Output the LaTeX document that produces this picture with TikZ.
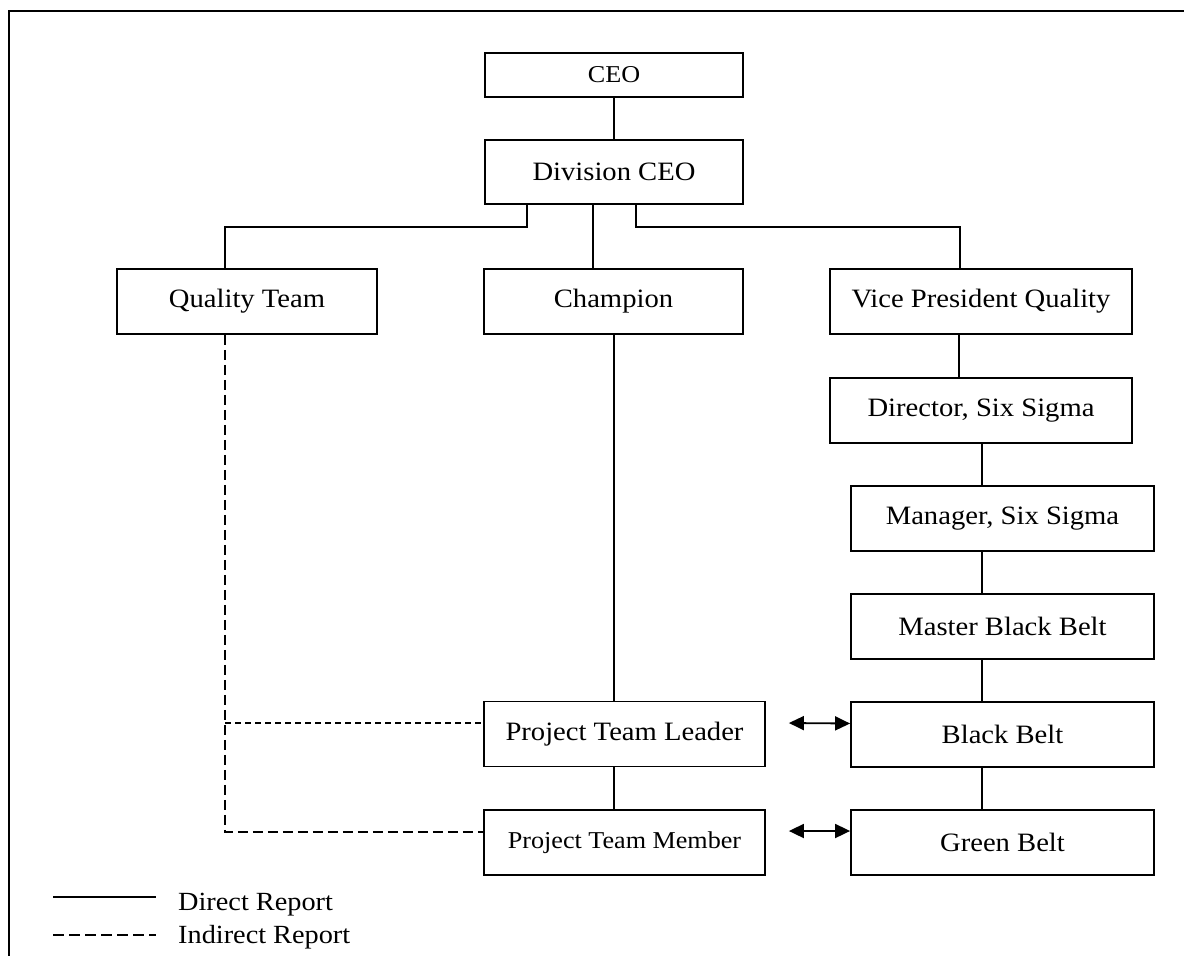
\documentclass[tikz,border=0pt]{standalone}
\usepackage{fontspec}
\setmainfont{Liberation Serif}[FakeStretch=1.08]
\usetikzlibrary{arrows.meta}
\begin{document}
\begin{tikzpicture}[x=1pt,y=-1pt,
  box/.style={draw, line width=1.8pt, inner sep=0pt, minimum height=65pt,
    font=\fontsize{26.5}{30}\selectfont},
  smallbox/.style={box, font=\fontsize{24.2}{28}\selectfont},
  direct/.style={line width=1.6pt},
  indirect/.style={line width=1.5pt, dash pattern=on 10pt off 5pt},
  indirectfine/.style={line width=1.5pt, dash pattern=on 6pt off 4pt},
  biarrow/.style={line width=1.8pt, {Triangle[length=15pt,width=14pt]}-{Triangle[length=15pt,width=14pt]}},
  legendtext/.style={anchor=base west, inner sep=0pt, font=\fontsize{26.2}{30}\selectfont}]
\useasboundingbox (0,0) rectangle (1184,956);

% page frame
\draw[line width=2.2pt] (9,956) -- (9,11) -- (1184,11);

% boxes
\node[smallbox, minimum width=258pt, minimum height=44pt] (ceo) at (614,75) {CEO};
\node[box, minimum width=258pt, minimum height=64pt] (div) at (614,172) {Division CEO};
\node[box, minimum width=260pt] (qt) at (247,301.5) {Quality Team};
\node[box, minimum width=259pt] (champ) at (613.5,301.5) {Champion};
\node[box, minimum width=302pt] (vp) at (981,301.5) {Vice President Quality};
\node[box, minimum width=302pt] (dir) at (981,410.5) {Director, Six Sigma};
\node[box, minimum width=303pt] (mgr) at (1002.5,518.5) {Manager, Six Sigma};
\node[box, minimum width=303pt] (mbb) at (1002.5,626.5) {Master Black Belt};
\node[box, minimum width=303pt] (bb) at (1002.5,734.5) {Black Belt};
\node[box, minimum width=303pt] (gb) at (1002.5,842.5) {Green Belt};
\node[box, minimum width=281pt] (ptl) at (624.5,734) {Project Team Leader};
\node[smallbox, minimum width=281pt] (ptm) at (624.5,842.5) {Project Team Member};

% direct reports
\draw[direct] (ceo) -- (div);
\draw[direct] ([xshift=-87pt]div.south) -- ++(0,22) -| ([xshift=-22pt]qt.north);
\coordinate (dmid) at ([xshift=-21pt]div.south);
\draw[direct] (dmid) -- (dmid |- champ.north);
\draw[direct] ([xshift=22pt]div.south) -- ++(0,22) -| ([xshift=-21pt]vp.north);
\coordinate (vpout) at ([xshift=-22pt]vp.south);
\draw[direct] (vpout) -- (vpout |- dir.north);
\coordinate (rc) at (982,0);
\draw[direct] (rc |- dir.south) -- (rc |- mgr.north);
\draw[direct] (rc |- mgr.south) -- (rc |- mbb.north);
\draw[direct] (rc |- mbb.south) -- (rc |- bb.north);
\draw[direct] (rc |- bb.south) -- (rc |- gb.north);
\coordinate (cc) at (614,0);
\draw[direct] (cc |- champ.south) -- (cc |- ptl.north);
\draw[direct] (cc |- ptl.south) -- (cc |- ptm.north);

% indirect reports
\coordinate (qj) at ([xshift=-22pt]qt.south);
\coordinate (ptlin) at ([yshift=11pt]ptl.west);
\coordinate (ptmin) at ([yshift=10.5pt]ptm.west);
\draw[indirect] (qj) |- (ptmin);
\draw[indirectfine] (qj |- ptlin) -- (ptlin);

% peer links
\draw[biarrow] ([xshift=23pt,yshift=11pt]ptl.east) -- ([yshift=11pt]bb.west);
\draw[biarrow] ([xshift=23pt,yshift=11.5pt]ptm.east) -- ([yshift=11.5pt]gb.west);

% legend
\coordinate (ls1) at (53,897);
\coordinate (le1) at (156,897);
\coordinate (ls2) at (53,935);
\coordinate (le2) at (156,935);
\draw[line width=2pt] (ls1) -- (le1);
\draw[line width=1.6pt, dash pattern=on 11pt off 5pt] (ls2) -- (le2);
\node[legendtext] (lt1) at (178,910) {Direct Report};
\node[legendtext] (lt2) at (178,943) {Indirect Report};
\end{tikzpicture}
\end{document}
